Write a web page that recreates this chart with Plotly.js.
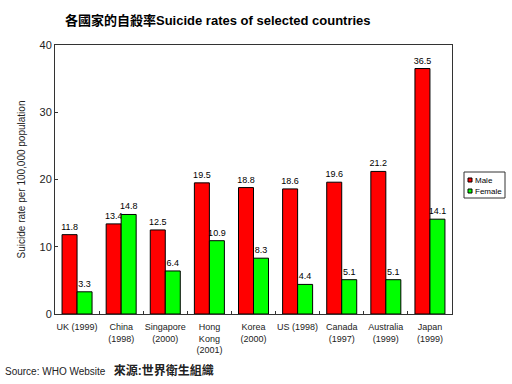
<!DOCTYPE html>
<html>
<head>
<meta charset="utf-8">
<script src="https://cdn.plot.ly/plotly-3.0.1.min.js"></script>
<style>html,body{margin:0;padding:0;background:#fff;}#chart{width:512px;height:384px;}</style>
</head>
<body>
<div id="chart"></div>
<script>
var categories = ["UK (1999)", "China<br>(1998)", "Singapore<br>(2000)", "Hong<br>Kong<br>(2001)", "Korea<br>(2000)", "US (1998)", "Canada<br>(1997)", "Australia<br>(1999)", "Japan<br>(1999)"];
var maleValues = [11.8, 13.4, 12.5, 19.5, 18.8, 18.6, 19.6, 21.2, 36.5];
var femaleValues = [3.3, 14.8, 6.4, 10.9, 8.3, 4.4, 5.1, 5.1, 14.1];
var yTicks = [0, 10, 20, 30, 40];
var seriesNames = ["Male", "Female"];
var seriesColors = ["#ff0000", "#00ff00"];

var font = "Liberation Sans, Arial, Noto Sans CJK TC, sans-serif";

function barTrace(name, vals, color) {
  return {
    type: "bar", name: name, x: categories, y: vals,
    text: vals.map(String), textposition: "outside", cliponaxis: false,
    constraintext: "none",
    textfont: {size: 9, color: "#000", family: font},
    marker: {color: color, line: {color: "#000", width: 1}}
  };
}
var male = barTrace(seriesNames[0], maleValues, seriesColors[0]);
var female = barTrace(seriesNames[1], femaleValues, seriesColors[1]);

// pixel -> paper helpers (plot area: x 55..452, y 45..314)
function px(x) { return (x - 55) / 397; }
function py(y) { return (314 - y) / 269; }

var shapes = [
  {type: "rect", xref: "paper", yref: "paper", x0: px(464), x1: px(505), y0: py(198), y1: py(172),
   line: {color: "#333", width: 1}, fillcolor: "#fff"},
  {type: "rect", xref: "paper", yref: "paper", x0: px(468), x1: px(472), y0: py(182), y1: py(178),
   line: {color: "#000", width: 1}, fillcolor: seriesColors[0]},
  {type: "rect", xref: "paper", yref: "paper", x0: px(468), x1: px(472), y0: py(193), y1: py(189),
   line: {color: "#000", width: 1}, fillcolor: seriesColors[1]}
];

var layout = {
  width: 512, height: 384,
  margin: {l: 55, r: 60, t: 45, b: 70},
  paper_bgcolor: "#fff", plot_bgcolor: "#fff",
  font: {family: font, color: "#000"},
  barmode: "group", bargap: 0.32, bargroupgap: 0,
  title: {
    text: "<b>各國家的自殺率Suicide rates of selected countries</b>",
    font: {size: 13, family: font, color: "#000"},
    x: 65/512, xanchor: "left", xref: "container",
    y: 1 - 20/384, yanchor: "middle", yref: "container"
  },
  xaxis: {
    type: "category", showline: true, linecolor: "#333", linewidth: 1, mirror: true,
    ticks: "inside", tickson: "boundaries", ticklen: 3, tickcolor: "#333",
    tickangle: 0, ticklabelstandoff: 4,
    tickfont: {size: 9, color: "#222", family: font},
    showgrid: false, zeroline: false
  },
  yaxis: {
    range: [0, 40], tickvals: yTicks, ticktext: yTicks.map(String),
    showline: true, linecolor: "#333", linewidth: 1, mirror: true,
    ticks: "inside", ticklen: 3, tickcolor: "#333",
    tickfont: {size: 11, color: "#222", family: font},
    showgrid: false, zeroline: false,
    title: {text: "Suicide rate per 100,000 population", font: {size: 10, color: "#222", family: font}, standoff: 12}
  },
  showlegend: false,
  shapes: shapes,
  annotations: [
    {text: "Source: WHO Website   <b><span style=\"font-size:12px\">來源:世界衛生組織</span></b>",
     xref: "paper", yref: "paper", x: px(3), y: py(370),
     xanchor: "left", yanchor: "middle", showarrow: false,
     font: {size: 10, family: font, color: "#222"}},
    {text: seriesNames[0], xref: "paper", yref: "paper", x: px(473), y: py(180),
     xanchor: "left", yanchor: "middle", showarrow: false,
     font: {size: 8, family: font, color: "#000"}},
    {text: seriesNames[1], xref: "paper", yref: "paper", x: px(473), y: py(191),
     xanchor: "left", yanchor: "middle", showarrow: false,
     font: {size: 8, family: font, color: "#000"}}
  ]
};

Plotly.newPlot("chart", [male, female], layout, {displayModeBar: false, staticPlot: true});
</script>
</body>
</html>
